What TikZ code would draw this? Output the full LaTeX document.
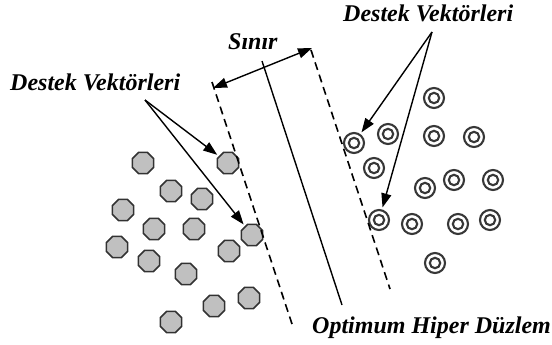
\documentclass[tikz,border=0pt]{standalone}
\usepackage{fontspec}
\setmainfont{Liberation Serif}
\usetikzlibrary{shapes.geometric,arrows.meta}
\definecolor{octfill}{RGB}{192,192,192}
\definecolor{octedge}{RGB}{50,50,50}
\definecolor{ringcol}{RGB}{55,55,55}
\tikzset{
 oct/.style={regular polygon, regular polygon sides=8, minimum size=23pt, inner sep=0pt, fill=octfill, draw=octedge, line width=1.6pt},
 ringnode/.style={circle, minimum size=20pt, inner sep=0pt, draw=ringcol, line width=2.1pt,
   path picture={\draw[ringcol, line width=2.1pt] (path picture bounding box.center) circle (5.2pt);}},
 lbl/.style={inner sep=0pt, anchor=base west, font=\fontsize{24}{28}\selectfont\bfseries\itshape},
 ptr/.style={line width=1.4pt, -{Triangle[length=14pt,width=10pt]}, shorten >=2pt},
 marginline/.style={line width=1.6pt, dash pattern=on 8pt off 5pt},
 planeline/.style={line width=1.4pt},
}
\begin{document}
\begin{tikzpicture}[x=1pt,y=-1pt]
\useasboundingbox (0,0) rectangle (552,345);
% octagons (class 1)
\foreach \n/\x/\y in {1/143/163,2/228/163,3/171/191,4/202/199,5/123/210,6/154/229,7/194/229,8/252/235,9/117/247,10/229/251,11/149/261,12/186/274,13/249/298,14/214/306,15/171/322}
  \node[oct] (o\n) at (\x,\y) {};
% rings (class 2)
\foreach \n/\x/\y in {1/434/98,2/388/134,3/434/136,4/474/137,5/354/143,6/374/168,7/425/188,8/454/180,9/493/180,10/379/220,11/412/224,12/458/224,13/490/220,14/435/263}
  \node[ringnode] (c\n) at (\x,\y) {};
% lines
\coordinate (dl1) at (212,82);
\coordinate (dl2) at (292,324);
\coordinate (dr1) at (311,50);
\coordinate (dr2) at (390,289);
\coordinate (h1) at (262,61);
\coordinate (h2) at (342,305);
\draw[marginline] (dl1) -- (dl2);
\draw[marginline] (dr1) -- (dr2);
\draw[planeline] (h1) -- (h2);
% margin arrow
\coordinate (sa) at (213,88);
\coordinate (sb) at (312,48);
\draw[line width=1.4pt, {Triangle[length=14pt,width=10pt]}-{Triangle[length=14pt,width=10pt]}] (sa) -- (sb);
% labels
\node[lbl] (ldv) at (10,91) {Destek Vektörleri};
\node[lbl] (rdv) at (343,22) {Destek Vektörleri};
\node[lbl] (sinir) at (228,50) {Sınır};
\node[lbl] (opt) at (312,333) {Optimum Hiper Düzlem};
% pointer arrows
\coordinate (lsrc) at (145,100);
\coordinate (rsrc) at (432,32);
\draw[ptr] (lsrc) -- (o2);
\draw[ptr] (lsrc) -- (o8);
\draw[ptr] (rsrc) -- (c5);
\draw[ptr] (rsrc) -- (c10);
\end{tikzpicture}
\end{document}
